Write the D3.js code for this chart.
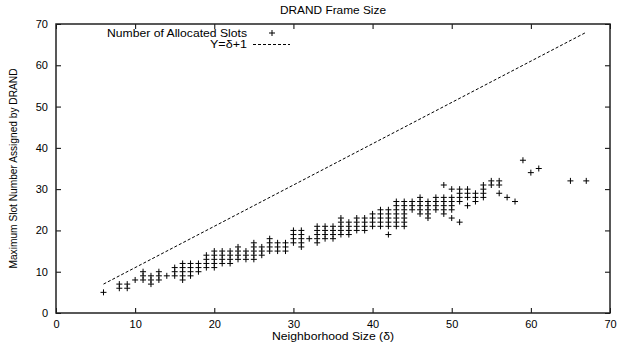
<!DOCTYPE html>
<html>
<head>
<meta charset="utf-8">
<script src="https://cdn.jsdelivr.net/npm/d3@7"></script>
<style>
  body { margin: 0; background: #fff; }
  text { font-family: "Liberation Sans", Arial, sans-serif; fill: #000; }
</style>
</head>
<body>
<div id="chart"></div>
<script>
// neighborhood sizes and the slot numbers observed at each one
const sizes = [6, 8, 9, 10, 11, 12, 13, 14, 15, 16, 17, 18, 19, 20, 21, 22, 23, 24, 25, 26,
  27, 28, 29, 30, 31, 32, 33, 34, 35, 36, 37, 38, 39, 40, 41, 42, 43, 44, 45, 46,
  47, 48, 49, 50, 51, 52, 53, 54, 55, 56, 57, 58, 59, 60, 61, 65, 67];
const slots = [
  [5], [6, 7], [6, 7], [8], [8, 9, 10], [7, 8, 9], [8, 9, 10], [9], [9, 10, 11], [8, 9, 10, 11, 12],
  [9, 10, 11, 12], [10, 11, 12], [11, 12, 13, 14], [11, 12, 13, 14, 15], [12, 13, 14, 15],
  [12, 13, 14, 15], [13, 14, 15, 16], [13, 14, 15], [13, 14, 15, 16, 17], [14, 15, 16],
  [15, 16, 17, 18], [15, 16, 17], [15, 16, 17], [17, 18, 19, 20], [16, 17, 18, 19, 20],
  [18], [17, 18, 19, 20, 21], [18, 19, 20, 21], [18, 19, 20, 21], [19, 20, 21, 22, 23],
  [19, 20, 21, 22], [20, 21, 22, 23], [20, 21, 22, 23], [21, 22, 23, 24], [21, 22, 23, 24, 25],
  [19, 21, 22, 23, 24, 25], [21, 22, 23, 24, 25, 26, 27], [21, 22, 23, 24, 25, 26, 27],
  [25, 26, 27], [24, 25, 26, 27, 28], [23, 24, 25, 26, 27], [25, 26, 27, 28],
  [24, 25, 26, 27, 28, 31], [23, 25, 26, 27, 28, 30], [22, 27, 28, 29, 30], [26, 28, 29, 30],
  [27, 28, 29], [28, 29, 30, 31], [31, 32], [29, 31, 32], [28], [27], [37], [34], [35], [32], [32]
];
const lineRange = [6, 67];
const xTicks = [0, 10, 20, 30, 40, 50, 60, 70];
const yTicks = [0, 10, 20, 30, 40, 50, 60, 70];

const width = 618, height = 343;
const margin = { left: 56, right: 8, top: 24, bottom: 30 };

const svg = d3.select('#chart').append('svg')
  .attr('width', width)
  .attr('height', height);

const x = d3.scaleLinear().domain([0, 70]).range([margin.left, width - margin.right]);
const y = d3.scaleLinear().domain([0, 70]).range([height - margin.bottom, margin.top]);

const tickLen = 5;

// ticks, drawn inward on all four sides like gnuplot
svg.append('g')
  .attr('transform', 'translate(0,' + y(0) + ')')
  .call(d3.axisBottom(x).tickValues(xTicks).tickSize(-tickLen).tickPadding(7))
  .call(function(g) { g.select('.domain').remove(); });
svg.append('g')
  .attr('transform', 'translate(0,' + y(70) + ')')
  .call(d3.axisTop(x).tickValues(xTicks).tickSize(-tickLen).tickFormat(''))
  .call(function(g) { g.select('.domain').remove(); });
svg.append('g')
  .attr('transform', 'translate(' + x(0) + ',0)')
  .call(d3.axisLeft(y).tickValues(yTicks).tickSize(-tickLen).tickPadding(8))
  .call(function(g) { g.select('.domain').remove(); });
svg.append('g')
  .attr('transform', 'translate(' + x(70) + ',0)')
  .call(d3.axisRight(y).tickValues(yTicks).tickSize(-tickLen).tickFormat(''))
  .call(function(g) { g.select('.domain').remove(); });

svg.selectAll('.tick line').attr('stroke', '#000').attr('stroke-width', 1);
svg.selectAll('.tick text')
  .style('font-family', '"Liberation Sans", Arial, sans-serif')
  .style('font-size', '11px')
  .attr('fill', '#000');

// border
svg.append('rect')
  .attr('x', x(0)).attr('y', y(70))
  .attr('width', x(70) - x(0)).attr('height', y(0) - y(70))
  .attr('fill', 'none').attr('stroke', '#222').attr('stroke-width', 1.5);

// Y = delta + 1 reference line
svg.append('line')
  .attr('x1', x(lineRange[0])).attr('y1', y(lineRange[0] + 1))
  .attr('x2', x(lineRange[1])).attr('y2', y(lineRange[1] + 1))
  .attr('stroke', '#000').attr('stroke-width', 1)
  .attr('stroke-dasharray', '3,2');

// points
const pts = [];
sizes.forEach(function(s, i) {
  slots[i].forEach(function(v) { pts.push([s, v]); });
});
const plus = 'M-3,0H3M0,-3V3';
svg.append('g').selectAll('path')
  .data(pts)
  .enter().append('path')
  .attr('transform', function(d) { return 'translate(' + x(d[0]) + ',' + y(d[1]) + ')'; })
  .attr('d', plus)
  .attr('fill', 'none').attr('stroke', '#000').attr('stroke-width', 1);

// text that is a bit wider than the font gives, like the original figure
function label(xp, yp, str, len, anchor, size) {
  return svg.append('text').attr('x', xp).attr('y', yp)
    .attr('text-anchor', anchor)
    .attr('textLength', len).attr('lengthAdjust', 'spacingAndGlyphs')
    .style('font-size', size + 'px').text(str);
}

// legend
label(247, 37, 'Number of Allocated Slots', 140, 'end', 10.5);
svg.append('path').attr('transform', 'translate(272,33)').attr('d', plus)
  .attr('fill', 'none').attr('stroke', '#000');
label(247, 48, 'Y=δ+1', 37, 'end', 10.5);
svg.append('line').attr('x1', 253).attr('x2', 290).attr('y1', 44.5).attr('y2', 44.5)
  .attr('stroke', '#000').attr('stroke-dasharray', '3,2');

// title and axis labels
label(333, 14, 'DRAND Frame Size', 106, 'middle', 10.5);
label(333, 340, 'Neighborhood Size (δ)', 122, 'middle', 10.5);
label(0, 0, 'Maximum Slot Number Assigned by DRAND', 200, 'middle', 10)
  .attr('transform', 'translate(17,' + ((y(0) + y(70)) / 2) + ') rotate(-90)');
</script>
</body>
</html>
